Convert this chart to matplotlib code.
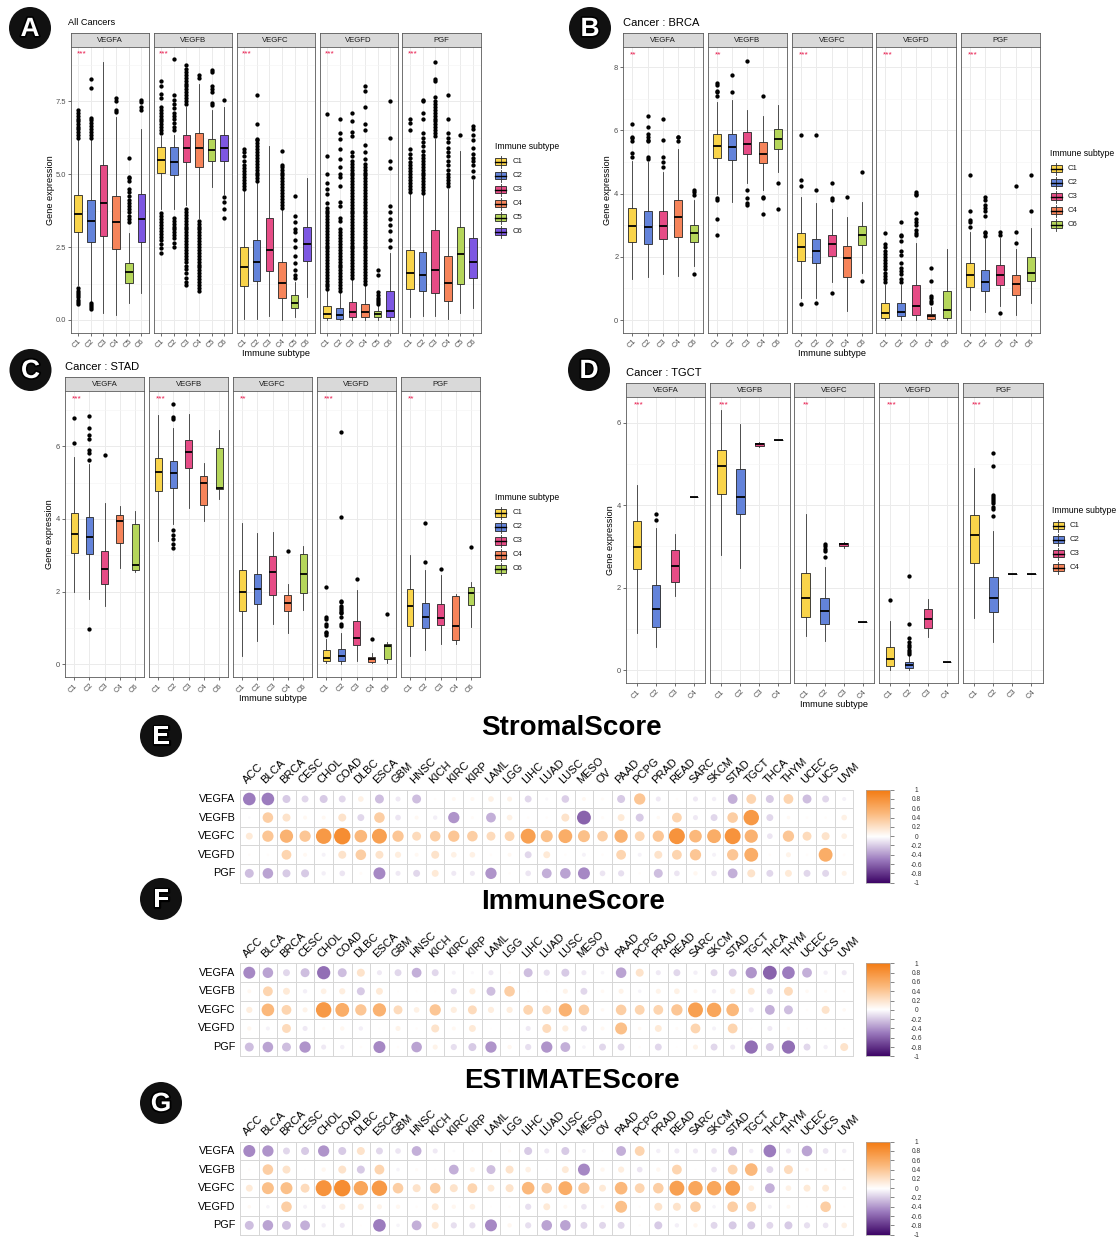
import numpy as np
import matplotlib
matplotlib.use("Agg")
import matplotlib.pyplot as plt
from matplotlib.patches import Circle, Rectangle
from matplotlib.colors import LinearSegmentedColormap
import matplotlib.patheffects as pe

plt.rcParams['font.family'] = ['Liberation Sans', 'DejaVu Sans']

# ---------------------------------------------------------------- data
GENES = ['VEGFA', 'VEGFB', 'VEGFC', 'VEGFD', 'PGF']
SUBTYPE_PALETTE = ['#F9D44A', '#6383DA', '#E64C86', '#F6845A', '#B5D65A', '#7D57E2']

subtypes_A = ['C1', 'C2', 'C3', 'C4', 'C5', 'C6']
subtypes_B = ['C1', 'C2', 'C3', 'C4', 'C6']
subtypes_C = ['C1', 'C2', 'C3', 'C4', 'C6']
subtypes_D = ['C1', 'C2', 'C3', 'C4']

# box statistics per subtype: (lower whisker, Q1, median, Q3, upper whisker)
A_VEGFA = [(1.2, 3.02, 3.62, 4.28, 6.2), (0.6, 2.68, 3.39, 4.1, 6.2), (0.24, 2.88, 4.01, 5.31, 8.84),
           (0.18, 2.42, 3.34, 4.24, 6.95), (0.58, 1.26, 1.64, 1.96, 2.99), (0.93, 2.67, 3.45, 4.3, 6.55)]
A_VEGFA_out = [[0.55, 0.62, 0.7, 0.78, 0.85, 0.92, 1.0, 1.08, 6.25, 6.35, 6.45, 6.55, 6.6, 6.7, 6.8, 6.9, 7.0, 7.1, 7.2],
               [0.38, 0.45, 0.52, 0.58, 6.25, 6.35, 6.45, 6.55, 6.65, 6.75, 6.85, 6.92, 7.95, 8.25],
               [],
               [7.12, 7.18, 7.5, 7.6],
               [3.35, 3.45, 3.55, 3.7, 3.8, 3.9, 4.0, 4.1, 4.25, 4.4, 4.5, 4.75, 4.85, 4.9, 5.55],
               [7.2, 7.3, 7.45, 7.52]]
A_VEGFB = [(3.8, 5.03, 5.48, 5.92, 6.3), (3.8, 4.98, 5.42, 5.92, 6.35), (3.95, 5.4, 5.88, 6.35, 7.3),
           (3.5, 5.25, 5.9, 6.42, 8.1), (4.55, 5.46, 5.83, 6.19, 7.2), (4.3, 5.46, 5.89, 6.32, 7.3)]
A_VEGFB_out = [[2.3, 2.45, 2.6, 2.75, 2.85, 2.95, 3.05, 3.15, 3.25, 3.35, 3.45, 3.55, 3.65,
                6.4, 6.5, 6.6, 6.7, 6.8, 6.9, 7.0, 7.1, 7.2, 7.3, 7.6, 7.75, 8.0, 8.2],
               [2.5, 2.65, 2.8, 2.9, 3.0, 3.1, 3.2, 3.3, 3.4, 3.5,
                6.5, 6.6, 6.75, 6.9, 7.0, 7.1, 7.25, 7.4, 7.55, 7.7, 8.95],
               [1.2, 1.3, 1.45, 1.6, 1.75, 1.85, 2.0, 2.1, 2.2, 2.3, 2.4, 2.5, 2.6, 2.7, 2.8, 2.9, 3.0,
                3.1, 3.2, 3.3, 3.4, 3.5, 3.6, 3.7, 3.8,
                7.4, 7.5, 7.6, 7.7, 7.8, 7.9, 8.0, 8.1, 8.2, 8.3, 8.4, 8.5, 8.6, 8.75],
               [1.0, 1.1, 1.2, 1.3, 1.4, 1.5, 1.6, 1.7, 1.8, 1.9, 2.0, 2.1, 2.2, 2.3, 2.4, 2.5, 2.6,
                2.7, 2.8, 2.9, 3.0, 3.1, 3.2, 3.3, 3.4, 8.3, 8.4],
               [7.35, 7.42, 7.8, 7.9, 8.0, 8.5, 8.55],
               [3.5, 3.8, 4.05, 4.2, 7.55]]
A_VEGFC = [(0.05, 1.18, 1.81, 2.51, 4.45), (0.03, 1.35, 1.97, 2.73, 4.7), (0.15, 1.67, 2.41, 3.5, 5.95),
           (0.0, 0.76, 1.27, 1.98, 3.8), (0.1, 0.41, 0.58, 0.84, 1.3), (0.8, 2.02, 2.61, 3.2, 4.88)]
A_VEGFC_out = [[4.5, 4.6, 4.7, 4.8, 4.9, 5.0, 5.1, 5.2, 5.3, 5.45, 5.6, 5.75, 5.85],
               [4.75, 4.85, 4.95, 5.05, 5.15, 5.25, 5.35, 5.45, 5.55, 5.65, 5.75, 5.85, 5.95, 6.05,
                6.15, 6.2, 6.7, 7.7],
               [],
               [3.85, 3.95, 4.05, 4.15, 4.25, 4.35, 4.45, 4.55, 4.65, 4.75, 4.85, 4.95, 5.05, 5.15,
                5.25, 5.3, 5.8],
               [1.45, 1.55, 1.7, 1.95, 2.2, 2.5, 2.75, 3.0, 3.1, 3.35, 3.55, 4.25],
               []]
A_VEGFD = [(0.0, 0.07, 0.2, 0.47, 1.0), (0.0, 0.05, 0.18, 0.41, 0.95), (0.0, 0.09, 0.27, 0.63, 1.4),
           (0.0, 0.09, 0.27, 0.55, 1.2), (0.0, 0.09, 0.2, 0.3, 0.5), (0.0, 0.09, 0.32, 1.01, 2.3)]
A_VEGFD_out = [[1.05, 1.15, 1.25, 1.35, 1.45, 1.55, 1.65, 1.75, 1.85, 1.95, 2.05, 2.15, 2.25, 2.35, 2.45,
                2.55, 2.65, 2.75, 2.85, 2.95, 3.05, 3.15, 3.25, 3.35, 3.45, 3.55, 3.65, 3.75, 3.85,
                4.0, 4.3, 4.5, 4.7, 5.0, 5.6, 7.05],
               [1.0, 1.1, 1.2, 1.3, 1.4, 1.5, 1.6, 1.7, 1.8, 1.9, 2.0, 2.1, 2.2, 2.3, 2.4, 2.5, 2.6,
                2.7, 2.8, 2.9, 3.0, 3.1, 3.4, 3.5, 3.9, 4.05, 4.6, 4.9, 5.0, 5.25, 5.5, 5.85, 6.2, 6.4, 6.9],
               [1.45, 1.55, 1.65, 1.75, 1.85, 1.95, 2.05, 2.15, 2.25, 2.35, 2.45, 2.55, 2.65, 2.75, 2.85,
                2.95, 3.05, 3.15, 3.25, 3.35, 3.45, 3.55, 3.65, 3.75, 3.85, 3.95, 4.05, 4.15, 4.25,
                4.35, 4.45, 4.55, 4.65, 4.75, 4.85, 4.95, 5.05, 5.15, 5.25, 5.35, 5.45, 5.6,
                5.75, 6.3, 6.45, 6.8, 7.1],
               [1.25, 1.35, 1.45, 1.55, 1.65, 1.75, 1.85, 1.95, 2.05, 2.15, 2.25, 2.35, 2.45, 2.55,
                2.65, 2.75, 2.85, 2.95, 3.05, 3.15, 3.25, 3.35, 3.45, 3.55, 3.65, 3.75, 3.85, 3.95,
                4.05, 4.15, 4.25, 4.35, 4.45, 4.55, 4.65, 4.75, 4.85, 4.95, 5.05, 5.15, 5.25, 5.35,
                5.5, 5.75, 6.0, 6.5, 6.7, 7.3, 7.85, 8.0],
               [0.55, 0.6, 0.7, 0.75, 0.85, 0.95, 1.55, 1.7],
               [2.5, 2.75, 3.05, 3.25, 3.45, 3.7, 3.9, 5.2, 5.45, 6.25, 7.5]]
A_PGF = [(0.1, 1.07, 1.62, 2.4, 4.35), (0.15, 1.0, 1.55, 2.34, 4.3), (0.12, 0.93, 1.72, 3.07, 6.2),
         (0.05, 0.65, 1.27, 2.2, 4.5), (0.25, 1.22, 2.27, 3.19, 5.8), (0.42, 1.44, 2.0, 2.8, 4.8)]
A_PGF_out = [[4.4, 4.5, 4.6, 4.7, 4.8, 4.9, 5.0, 5.1, 5.2, 5.3, 5.4, 5.55, 5.7, 5.85, 6.5, 6.75, 6.9],
             [4.35, 4.45, 4.55, 4.65, 4.75, 4.85, 4.95, 5.05, 5.15, 5.25, 5.35, 5.45, 5.55, 5.65,
              5.8, 5.95, 6.1, 6.25, 6.4, 6.9, 7.1, 7.5, 7.55],
             [6.3, 6.4, 6.5, 6.6, 6.7, 6.8, 6.9, 7.0, 7.1, 7.2, 7.3, 7.4, 7.5, 7.65, 8.2, 8.25, 8.85],
             [4.6, 4.7, 4.8, 4.9, 5.0, 5.15, 5.3, 5.45, 5.6, 5.75, 5.9, 6.1, 6.25, 6.4, 6.9, 7.7],
             [6.35],
             [4.9, 5.1, 5.3, 5.45, 5.55, 5.7, 5.9, 6.15, 6.35, 6.55, 6.65]]

B_VEGFA = [(1.29, 2.48, 2.99, 3.53, 5.02), (1.36, 2.42, 2.94, 3.45, 5.0), (1.46, 2.56, 2.97, 3.45, 4.7),
           (1.38, 2.64, 3.25, 3.8, 5.4), (1.7, 2.46, 2.75, 3.0, 3.8)]
B_VEGFA_out = [[5.15, 5.3, 5.65, 5.75, 5.8, 6.2], [5.1, 5.15, 5.65, 5.7, 5.8, 5.9, 6.1, 6.45],
               [4.85, 5.0, 5.15, 5.7, 6.35], [5.65, 5.8, 5.8], [1.45, 3.95, 4.05, 4.1]]
B_VEGFB = [(4.0, 5.12, 5.5, 5.89, 6.9), (3.75, 5.05, 5.47, 5.89, 6.95), (4.35, 5.26, 5.57, 5.96, 6.65),
           (4.1, 4.96, 5.26, 5.63, 6.45), (4.7, 5.42, 5.74, 6.03, 6.8)]
B_VEGFB_out = [[2.7, 3.2, 3.8, 3.85, 7.1, 7.2, 7.25, 7.45, 7.5], [7.2, 7.75],
               [3.65, 3.7, 3.85, 4.1, 8.2], [3.35, 3.85, 3.9, 7.1], [3.5, 4.35]]
B_VEGFC = [(0.7, 1.87, 2.31, 2.75, 3.9), (0.7, 1.8, 2.18, 2.57, 3.7), (1.2, 2.04, 2.4, 2.68, 3.5),
           (0.3, 1.35, 1.95, 2.33, 3.25), (1.5, 2.36, 2.69, 2.97, 3.75)]
B_VEGFC_out = [[0.52, 4.25, 4.42, 5.85], [0.55, 4.1, 5.85], [0.85, 3.8, 3.85, 4.35], [3.88], [1.22, 4.7]]
B_VEGFD = [(0.0, 0.08, 0.22, 0.54, 1.1), (0.0, 0.12, 0.25, 0.54, 1.1), (0.0, 0.16, 0.46, 1.1, 2.45),
           (0.0, 0.04, 0.13, 0.19, 0.4), (0.0, 0.06, 0.32, 0.93, 2.25)]
B_VEGFD_out = [[1.2, 1.3, 1.4, 1.5, 1.6, 1.7, 1.8, 1.9, 2.0, 2.1, 2.2, 2.3, 2.4, 2.75],
               [1.2, 1.3, 1.45, 1.55, 1.65, 1.8, 2.05, 2.2, 2.5, 2.65, 2.7, 3.1],
               [2.7, 2.75, 2.85, 3.0, 3.1, 3.2, 3.4, 3.95, 4.0, 4.05],
               [0.55, 0.6, 0.7, 0.75, 1.25, 1.65], []]
B_PGF = [(0.32, 1.04, 1.41, 1.79, 2.8), (0.27, 0.91, 1.2, 1.57, 2.55), (0.45, 1.12, 1.43, 1.73, 2.6),
         (0.15, 0.8, 1.15, 1.43, 2.25), (0.53, 1.22, 1.5, 2.01, 2.9)]
B_PGF_out = [[2.95, 3.1, 3.15, 3.45, 4.6], [2.65, 2.75, 2.8, 3.3, 3.45, 3.55, 3.65, 3.8, 3.9],
             [0.22, 2.7, 2.78], [2.45, 2.8, 4.25], [3.45, 4.6]]

C_VEGFA = [(1.98, 3.07, 3.59, 4.15, 5.69), (1.8, 3.03, 3.5, 4.06, 5.5), (1.6, 2.22, 2.61, 3.11, 4.45),
           (2.65, 3.34, 3.94, 4.1, 4.35), (2.55, 2.6, 2.73, 3.86, 4.22)]
C_VEGFA_out = [[6.1, 6.78], [0.98, 5.62, 5.8, 5.9, 6.2, 6.3, 6.5, 6.83], [5.75], [], []]
C_VEGFB = [(3.4, 4.76, 5.28, 5.68, 6.85), (3.85, 4.84, 5.25, 5.58, 6.5), (4.3, 5.41, 5.84, 6.17, 6.88),
           (3.95, 4.38, 4.99, 5.19, 5.55), (4.55, 4.83, 4.85, 5.96, 6.45)]
C_VEGFB_out = [[], [3.2, 3.3, 3.45, 3.55, 3.7, 6.75, 6.8, 7.15], [], [], []]
C_VEGFC = [(0.23, 1.46, 1.98, 2.59, 3.9), (0.63, 1.66, 2.07, 2.49, 3.6), (1.12, 1.91, 2.54, 2.97, 3.63),
           (0.85, 1.46, 1.68, 1.91, 2.2), (1.5, 1.95, 2.48, 3.03, 3.25)]
C_VEGFC_out = [[], [], [], [3.12], []]
C_VEGFD = [(0.02, 0.1, 0.17, 0.38, 0.7), (0.0, 0.09, 0.22, 0.42, 0.85), (0.08, 0.53, 0.72, 1.19, 2.05),
           (0.03, 0.06, 0.13, 0.21, 0.3), (0.03, 0.15, 0.49, 0.57, 0.6)]
C_VEGFD_out = [[0.8, 0.85, 0.9, 1.05, 1.1, 1.25, 1.3, 2.13],
               [1.05, 1.1, 1.3, 1.4, 1.45, 1.5, 1.55, 1.6, 1.7, 1.75, 4.05, 6.4],
               [2.35], [0.7], [1.38]]
C_PGF = [(0.22, 1.06, 1.61, 2.06, 3.0), (0.4, 0.99, 1.31, 1.68, 2.6), (0.57, 1.08, 1.26, 1.66, 2.45),
         (0.57, 0.68, 1.05, 1.88, 1.92), (1.02, 1.63, 1.96, 2.12, 2.25)]
C_PGF_out = [[], [2.82, 3.88], [2.62], [], [3.22]]

D_VEGFA = [(0.9, 2.46, 2.98, 3.63, 4.48), (0.57, 1.04, 1.48, 2.07, 3.45), (1.8, 2.15, 2.53, 2.91, 3.3),
           (4.2, 4.2, 4.2, 4.2, 4.2)]
D_VEGFA_out = [[], [3.65, 3.78], [], []]
D_VEGFB = [(2.8, 4.28, 4.95, 5.33, 6.3), (2.48, 3.8, 4.19, 4.89, 5.98), (5.42, 5.44, 5.48, 5.51, 5.53),
           (5.58, 5.58, 5.58, 5.58, 5.58)]
D_VEGFB_out = [[], [], [], []]
D_VEGFC = [(0.83, 1.3, 1.74, 2.35, 3.8), (0.7, 1.11, 1.43, 1.75, 2.5), (2.96, 3.0, 3.05, 3.09, 3.12),
           (1.17, 1.17, 1.17, 1.17, 1.17)]
D_VEGFC_out = [[], [2.75, 2.9, 2.95, 3.0, 3.05], [], []]
D_VEGFD = [(0.0, 0.11, 0.27, 0.57, 1.2), (0.0, 0.05, 0.12, 0.19, 0.35), (0.8, 1.01, 1.25, 1.49, 1.72),
           (0.2, 0.2, 0.2, 0.2, 0.2)]
D_VEGFD_out = [[1.7], [0.4, 0.45, 0.5, 0.55, 0.6, 0.68, 0.78, 1.12, 2.28], [], []]
D_PGF = [(1.27, 2.6, 3.29, 3.76, 4.9), (0.68, 1.42, 1.76, 2.25, 3.38), (2.34, 2.34, 2.34, 2.34, 2.34),
         (2.34, 2.34, 2.34, 2.34, 2.34)]
D_PGF_out = [[], [3.75, 3.9, 3.95, 4.05, 4.1, 4.15, 4.2, 4.25, 4.95, 5.27], [], []]

A_signif = ['***', '***', '***', '***', '***']
B_signif = ['**', '**', '***', '***', '***']
C_signif = ['***', '***', '**', '***', '**']
D_signif = ['***', '***', '**', '***', '***']

CANCERS = ['ACC', 'BLCA', 'BRCA', 'CESC', 'CHOL', 'COAD', 'DLBC', 'ESCA', 'GBM', 'HNSC', 'KICH',
           'KIRC', 'KIRP', 'LAML', 'LGG', 'LIHC', 'LUAD', 'LUSC', 'MESO', 'OV', 'PAAD', 'PCPG',
           'PRAD', 'READ', 'SARC', 'SKCM', 'STAD', 'TGCT', 'THCA', 'THYM', 'UCEC', 'UCS', 'UVM']

stromal_VEGFA = [-0.5, -0.5, -0.2, -0.15, -0.2, -0.15, 0.1, -0.25, -0.08, -0.25, 0.02, 0.05, 0.05, 0.1, 0.08,
                 -0.15, -0.03, -0.18, 0.05, 0.03, -0.2, 0.4, -0.08, 0.02, -0.08, -0.06, -0.3, 0.3, -0.2,
                 0.3, -0.25, -0.15, -0.05]
stromal_VEGFB = [-0.02, 0.35, 0.2, 0.05, 0.05, 0.2, -0.15, 0.35, -0.1, 0.05, -0.06, -0.4, 0.03, -0.3, 0.1,
                 0.02, 0.02, 0.2, -0.6, 0.03, 0.15, -0.2, 0.04, 0.3, -0.08, -0.15, 0.35, 0.75, -0.15,
                 0.04, 0.02, 0.02, 0.1]
stromal_VEGFC = [0.15, 0.4, 0.55, 0.4, 0.75, 0.85, 0.5, 0.7, 0.4, 0.25, 0.35, 0.4, 0.35, 0.25, 0.3, 0.7,
                 0.45, 0.6, 0.45, 0.35, 0.55, 0.3, 0.4, 0.8, 0.5, 0.6, 0.8, 0.55, -0.1, 0.4, 0.25, 0.2, 0.1]
stromal_VEGFD = [0.02, 0.02, 0.3, 0.05, -0.05, 0.2, 0.35, 0.2, 0.12, 0.05, 0.2, 0.1, 0.1, 0.02, 0.05, -0.15,
                 0.15, 0.02, -0.05, 0.02, 0.3, -0.05, 0.2, 0.3, 0.4, -0.05, 0.4, 0.6, 0.02, 0.08, 0.02,
                 0.6, 0.02]
stromal_PGF = [-0.25, -0.35, -0.2, -0.2, -0.06, -0.1, 0.03, -0.45, -0.08, -0.15, 0.15, -0.08, -0.08, -0.4,
               0.02, -0.1, -0.3, -0.35, -0.45, -0.1, -0.12, 0.02, -0.25, -0.1, 0.06, -0.1, -0.3, 0.2,
               -0.15, 0.15, -0.15, -0.15, 0.08]

immune_VEGFA = [-0.45, -0.35, -0.15, -0.25, -0.55, -0.25, 0.2, -0.08, -0.15, -0.3, -0.15, -0.05, -0.03,
                -0.08, 0.02, -0.25, -0.12, -0.2, -0.08, -0.04, -0.35, 0.2, -0.08, -0.15, -0.06, -0.15,
                -0.2, -0.4, -0.6, -0.5, -0.3, -0.06, -0.08]
immune_VEGFB = [0.05, 0.3, 0.15, -0.06, 0.1, 0.12, -0.2, 0.15, 0.01, 0.01, 0.01, -0.12, 0.12, -0.25, 0.35,
                0.01, 0.01, 0.08, -0.15, 0.04, 0.08, -0.04, 0.08, 0.1, 0.05, -0.06, 0.1, 0.15, -0.12,
                0.25, 0.04, 0.03, 0.02]
immune_VEGFC = [0.12, 0.5, 0.3, 0.08, 0.75, 0.6, 0.4, 0.55, 0.25, 0.1, 0.4, 0.12, 0.25, 0.12, 0.12, 0.3,
                0.25, 0.55, 0.35, 0.04, 0.35, 0.3, 0.3, 0.4, 0.7, 0.65, 0.5, -0.08, -0.3, -0.25, 0.02,
                0.2, 0.04]
immune_VEGFD = [0.06, -0.05, 0.25, -0.08, 0.03, 0.06, -0.06, 0.01, 0.08, 0.02, 0.2, 0.05, 0.15, 0.01, 0.01,
                -0.08, 0.25, 0.12, -0.12, 0.05, 0.45, 0.04, 0.15, 0.03, 0.3, -0.05, 0.3, 0.01, -0.08,
                0.03, 0.01, 0.01, 0.01]
immune_PGF = [-0.25, -0.35, -0.25, -0.4, -0.08, -0.06, 0.02, -0.45, 0.02, -0.35, 0.08, -0.12, -0.2, -0.4,
              0.06, -0.12, -0.4, -0.3, -0.04, -0.15, -0.15, 0.02, -0.15, 0.01, 0.08, -0.15, -0.08, -0.55,
              -0.2, -0.55, -0.15, -0.06, 0.2]

estimate_VEGFA = [-0.45, -0.4, -0.15, -0.2, -0.4, -0.2, 0.2, -0.15, -0.1, -0.3, -0.08, -0.02, 0.01, 0.02,
                  0.03, -0.2, -0.08, -0.2, -0.05, 0.01, -0.3, 0.3, -0.06, -0.08, -0.08, -0.1, -0.25, -0.06,
                  -0.5, -0.08, -0.35, -0.1, -0.06]
estimate_VEGFB = [0.02, 0.35, 0.2, 0.01, 0.06, 0.2, -0.2, 0.3, -0.04, 0.03, 0.01, -0.3, 0.08, -0.25, 0.2,
                  0.1, 0.01, 0.15, -0.45, 0.06, 0.12, -0.1, 0.06, 0.3, 0.01, -0.1, 0.3, 0.5, -0.15, 0.25,
                  0.04, 0.03, 0.02]
estimate_VEGFC = [0.15, 0.45, 0.45, 0.25, 0.8, 0.85, 0.65, 0.75, 0.35, 0.2, 0.35, 0.2, 0.3, 0.15, 0.2, 0.5,
                  0.35, 0.6, 0.4, 0.15, 0.5, 0.3, 0.35, 0.7, 0.65, 0.65, 0.7, 0.1, -0.3, 0.1, 0.15, 0.15,
                  0.05]
estimate_VEGFD = [0.04, -0.04, 0.35, -0.05, -0.06, 0.12, 0.12, 0.08, 0.06, 0.02, 0.15, 0.06, 0.1, 0.01,
                  0.02, -0.12, 0.15, 0.05, -0.1, 0.04, 0.45, 0.02, 0.2, 0.2, 0.35, -0.04, 0.35, 0.3, -0.05,
                  0.05, 0.01, 0.35, 0.01]
estimate_PGF = [-0.25, -0.35, -0.25, -0.3, -0.06, -0.08, 0.01, -0.5, -0.04, -0.3, 0.15, -0.12, -0.12, -0.45,
                0.06, -0.12, -0.35, -0.35, -0.15, -0.15, -0.15, 0.02, -0.2, -0.06, 0.06, -0.15, -0.2, -0.2,
                -0.15, -0.2, -0.12, -0.1, 0.1]

# ---------------------------------------------------------------- figure
W, H = 1118, 1239
fig = plt.figure(figsize=(W / 100, H / 100), dpi=100)
fig.patch.set_facecolor('white')


def add_ax(left, top, right, bottom):
    """Axes placed by pixel edges measured from the top-left corner."""
    return fig.add_axes([left / W, 1 - bottom / H, (right - left) / W, (bottom - top) / H])


def facet_panel(lefts, width, strip_top, strip_bot, bottom, subtypes, stats, outs, signif,
                ylim, yticks, yticklabels, yminor, box_w, star_y):
    n = len(subtypes)
    pos = list(range(1, n + 1))
    axes = []
    for k, gene in enumerate(GENES):
        l = lefts[k]
        sax = add_ax(l, strip_top, l + width, strip_bot)
        sax.set_facecolor('#D9D9D9')
        sax.set_xticks([]); sax.set_yticks([])
        for sp in sax.spines.values():
            sp.set_color('#5A5A5A'); sp.set_linewidth(0.6)
        sax.text(0.5, 0.5, gene, ha='center', va='center', fontsize=5.6, color='#1A1A1A',
                 transform=sax.transAxes)

        ax = add_ax(l, strip_bot, l + width, bottom)
        bx = []
        for s, o, lab in zip(stats[k], outs[k], subtypes):
            lo, q1, med, q3, hi = s
            bx.append(dict(whislo=lo, q1=q1, med=med, q3=q3, whishi=hi, fliers=o, label=lab))
        art = ax.bxp(bx, positions=pos, widths=box_w, patch_artist=True, showcaps=False,
                     boxprops=dict(linewidth=0.6, edgecolor='#262626'),
                     whiskerprops=dict(linewidth=0.6, color='#333333'),
                     medianprops=dict(linewidth=1.3, color='black', solid_capstyle='butt'),
                     flierprops=dict(marker='o', markersize=3.1, markerfacecolor='black',
                                     markeredgecolor='none'))
        for i, patch in enumerate(art['boxes']):
            patch.set_facecolor(SUBTYPE_PALETTE[i])
        ax.set_xlim(0.4, n + 0.6)
        ax.set_ylim(*ylim)
        ax.set_yticks(yticks)
        ax.set_yticks(yminor, minor=True)
        ax.set_xticks(pos)
        ax.set_xticklabels(subtypes)
        for lbl in ax.get_xticklabels():
            lbl.set_rotation(45); lbl.set_ha('right'); lbl.set_va('top')
            lbl.set_rotation_mode('anchor')
        ax.grid(which='major', color='#EBEBEB', linewidth=0.7)
        ax.grid(which='minor', axis='y', color='#F4F4F4', linewidth=0.4)
        ax.set_axisbelow(True)
        ax.tick_params(axis='x', length=2, width=0.5, color='#333333', labelsize=5.4,
                       labelcolor='#4D4D4D', pad=1.5)
        ax.tick_params(which='minor', length=0)
        if k == 0:
            ax.set_yticklabels(yticklabels)
            ax.tick_params(axis='y', length=2, width=0.5, color='#333333', labelsize=5.4,
                           labelcolor='#4D4D4D', pad=1.5)
        else:
            ax.tick_params(axis='y', length=0, labelleft=False)
        for sp in ax.spines.values():
            sp.set_color('#5A5A5A'); sp.set_linewidth(0.6)
        ax.text(0.85, star_y, signif[k], ha='left', va='center', fontsize=6, color='#E8174A')
        axes.append(ax)
    return axes


panel_A = facet_panel([70.7, 153.6, 236.5, 319.5, 402.4], 78.2, 33.3, 47.3, 332.7, subtypes_A,
                      [A_VEGFA, A_VEGFB, A_VEGFC, A_VEGFD, A_PGF],
                      [A_VEGFA_out, A_VEGFB_out, A_VEGFC_out, A_VEGFD_out, A_PGF_out], A_signif,
                      (-0.435, 9.34), [0, 2.5, 5, 7.5], ['0.0', '2.5', '5.0', '7.5'],
                      [1.25, 3.75, 6.25, 8.75], 0.6, 9.13)
panel_B = facet_panel([623.2, 707.5, 791.9, 876.2, 960.6], 79.7, 33.3, 47.3, 332.7, subtypes_B,
                      [B_VEGFA, B_VEGFB, B_VEGFC, B_VEGFD, B_PGF],
                      [B_VEGFA_out, B_VEGFB_out, B_VEGFC_out, B_VEGFD_out, B_PGF_out], B_signif,
                      (-0.40, 8.63), [0, 2, 4, 6, 8], ['0', '2', '4', '6', '8'],
                      [1, 3, 5, 7], 0.52, 8.38)
panel_C = facet_panel([65, 149, 233, 317, 400.9], 79.3, 377.3, 391, 677.3, subtypes_C,
                      [C_VEGFA, C_VEGFB, C_VEGFC, C_VEGFD, C_PGF],
                      [C_VEGFA_out, C_VEGFB_out, C_VEGFC_out, C_VEGFD_out, C_PGF_out], C_signif,
                      (-0.36, 7.52), [0, 2, 4, 6], ['0', '2', '4', '6'],
                      [1, 3, 5, 7], 0.45, 7.3)
panel_D = facet_panel([625.7, 710, 794.4, 878.7, 963.1], 79.7, 383.3, 397.3, 683.3, subtypes_D,
                      [D_VEGFA, D_VEGFB, D_VEGFC, D_VEGFD, D_PGF],
                      [D_VEGFA_out, D_VEGFB_out, D_VEGFC_out, D_VEGFD_out, D_PGF_out], D_signif,
                      (-0.32, 6.62), [0, 2, 4, 6], ['0', '2', '4', '6'],
                      [1, 3, 5], 0.46, 6.43)

# ---------------------------------------------------------------- correlation dot matrices
corr_cmap = LinearSegmentedColormap.from_list(
    'orange_purple', [(0.0, '#3D0566'), (0.25, '#9C7BBE'), (0.5, '#FFFFFF'),
                      (0.75, '#FBB97C'), (1.0, '#F47B12')])

GRID_L, GRID_R = 240, 853.5
CELL = (GRID_R - GRID_L) / len(CANCERS)


def corr_panel(top, rows):
    ax = add_ax(GRID_L, top, GRID_R, top + 5 * CELL)
    nc = len(CANCERS)
    ax.set_xlim(0, nc)
    ax.set_ylim(5, 0)
    ax.axis('off')
    for j in range(nc + 1):
        ax.plot([j, j], [0, 5], color='#D6D6D6', lw=0.7, clip_on=False)
    for i in range(6):
        ax.plot([0, nc], [i, i], color='#D6D6D6', lw=0.7, clip_on=False)
    for i, vals in enumerate(rows):
        for j, v in enumerate(vals):
            rad = 0.48 * np.sqrt(abs(v))
            ax.add_patch(Circle((j + 0.5, i + 0.5), rad, facecolor=corr_cmap((v + 1) / 2),
                                edgecolor='none'))
        ax.text(-0.25, i + 0.5, GENES[i], ha='right', va='center', fontsize=7.8, color='black')
    for j, c in enumerate(CANCERS):
        ax.text(j + 0.45, -0.22, c, rotation=45, rotation_mode='anchor', ha='left',
                va='bottom', fontsize=8, color='black')

    cax = add_ax(866, top, 890, top + 5 * CELL)
    grad = np.linspace(1, -1, 256).reshape(-1, 1)
    cax.imshow(grad, aspect='auto', cmap=corr_cmap, vmin=-1, vmax=1, extent=[0, 1, -1, 1])
    cax.set_xticks([])
    ticks = [1, 0.8, 0.6, 0.4, 0.2, 0, -0.2, -0.4, -0.6, -0.8, -1]
    cax.yaxis.tick_right()
    cax.set_yticks(ticks)
    cax.set_yticklabels(['1', '0.8', '0.6', '0.4', '0.2', '0', '-0.2', '-0.4', '-0.6', '-0.8', '-1'])
    cax.tick_params(axis='y', length=3, width=0.5, color='#555555', labelsize=4.8,
                    labelcolor='#333333', pad=16)
    for lbl in cax.get_yticklabels():
        lbl.set_ha('center')
    for sp in cax.spines.values():
        sp.set_color('#AAAAAA'); sp.set_linewidth(0.5)
    return ax


corr_panel(789.7, [stromal_VEGFA, stromal_VEGFB, stromal_VEGFC, stromal_VEGFD, stromal_PGF])
corr_panel(963.4, [immune_VEGFA, immune_VEGFB, immune_VEGFC, immune_VEGFD, immune_PGF])
corr_panel(1141.7, [estimate_VEGFA, estimate_VEGFB, estimate_VEGFC, estimate_VEGFD, estimate_PGF])

# ---------------------------------------------------------------- annotation layer (pixel coordinates)
ov = fig.add_axes([0, 0, 1, 1], zorder=10)
ov.set_xlim(0, W)
ov.set_ylim(H, 0)
ov.axis('off')
ov.patch.set_visible(False)

# panel titles
ov.text(68, 22.5, 'All Cancers', fontsize=6.6, ha='left', va='center')
ov.text(622.8, 23, 'Cancer : BRCA', fontsize=8, ha='left', va='center')
ov.text(64.6, 367, 'Cancer : STAD', fontsize=8, ha='left', va='center')
ov.text(625.7, 372.7, 'Cancer : TGCT', fontsize=8, ha='left', va='center')

# axis titles
for x, y in [(50.2, 190), (607.4, 190), (49.5, 534), (610.3, 540)]:
    ov.text(x, y, 'Gene expression', fontsize=6.6, rotation=90, ha='center', va='center')
for x, y in [(275.7, 354), (831.7, 354), (272.8, 698.3), (833.9, 704.3)]:
    ov.text(x, y, 'Immune subtype', fontsize=6.6, ha='center', va='center')


def legend(x, title_y, rows_y, labels):
    ov.text(x, title_y, 'Immune subtype', fontsize=6.2, ha='left', va='center')
    for i, (yy, lab) in enumerate(zip(rows_y, labels)):
        xc = x + 6
        ov.plot([xc, xc], [yy - 6, yy + 6], color='#333333', lw=0.6)
        ov.add_patch(Rectangle((x + 0.5, yy - 3.6), 11, 7.2, facecolor=SUBTYPE_PALETTE[i],
                               edgecolor='#262626', lw=0.6))
        ov.plot([x + 0.5, x + 11.5], [yy, yy], color='black', lw=1.0)
        ov.text(x + 18, yy, lab, fontsize=5.6, ha='left', va='center', color='#1A1A1A')


legend(494.6, 146.7, [161.7, 175.7, 189.7, 203.7, 217.7, 231.7], subtypes_A)
legend(1050, 153.3, [168.7, 182.7, 196.7, 210.7, 224.7], subtypes_B)
legend(494.6, 497.7, [513, 527, 541, 555, 569], subtypes_C)
legend(1052, 510.3, [525.7, 539.7, 553.7, 567.7], subtypes_D)

# score titles
ov.text(571.8, 728.3, 'StromalScore', fontsize=20, fontweight='bold', ha='center', va='center')
ov.text(573, 901.7, 'ImmuneScore', fontsize=20, fontweight='bold', ha='center', va='center')
ov.text(571.8, 1080.7, 'ESTIMATEScore', fontsize=20, fontweight='bold', ha='center', va='center')

# lettered panel badges
for letter, (cx, cy) in zip('ABCDEFG', [(30, 28), (590, 28), (30.5, 370), (589, 370),
                                        (161, 736), (161, 899), (161, 1103)]):
    ov.add_patch(Circle((cx, cy), 21, facecolor='#111111', edgecolor='none'))
    t = ov.text(cx, cy + 1, letter, fontsize=19, fontweight='bold', color='white',
                ha='center', va='center')
    t.set_path_effects([pe.Stroke(linewidth=2.5, foreground='black'), pe.Normal()])

fig.savefig('out.png', dpi=100, facecolor='white')
